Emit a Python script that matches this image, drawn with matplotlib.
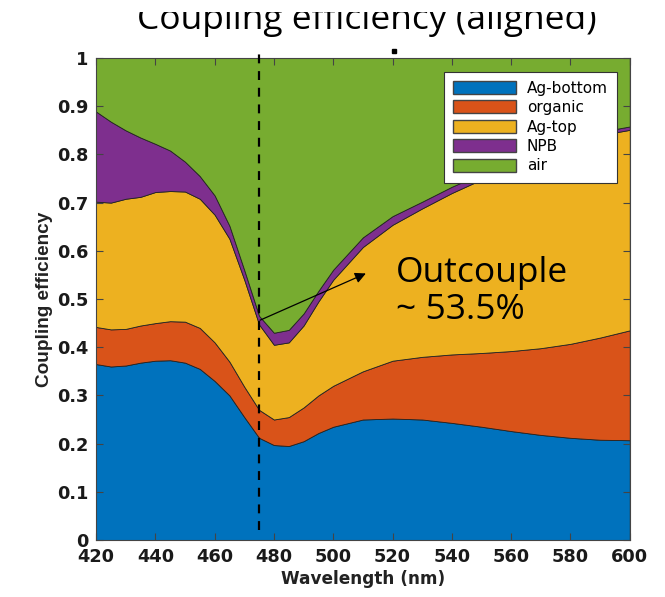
import numpy as np
import matplotlib.pyplot as plt
from matplotlib.patches import Rectangle

# wavelength samples (nm)
wavelength = [420, 425, 430, 435, 440, 445, 450, 455, 460, 465, 470, 475, 480,
              485, 490, 495, 500, 510, 520, 530, 540, 550, 560, 570, 580, 590, 600]

# fraction of power going into each layer
ag_bottom = [0.365, 0.360, 0.362, 0.368, 0.372, 0.373, 0.368, 0.355, 0.330, 0.300,
             0.255, 0.212, 0.197, 0.195, 0.205, 0.222, 0.235, 0.250, 0.252, 0.250,
             0.243, 0.235, 0.226, 0.218, 0.212, 0.208, 0.207]
organic = [0.077, 0.077, 0.076, 0.077, 0.078, 0.081, 0.085, 0.085, 0.080, 0.070,
           0.063, 0.058, 0.053, 0.060, 0.070, 0.078, 0.085, 0.100, 0.120, 0.130,
           0.142, 0.153, 0.166, 0.180, 0.195, 0.212, 0.228]
ag_top = [0.260, 0.263, 0.270, 0.267, 0.272, 0.270, 0.270, 0.268, 0.265, 0.255,
          0.222, 0.177, 0.155, 0.155, 0.170, 0.195, 0.220, 0.258, 0.282, 0.308,
          0.335, 0.360, 0.383, 0.402, 0.416, 0.420, 0.416]
npb = [0.187, 0.168, 0.142, 0.123, 0.100, 0.084, 0.062, 0.047, 0.040, 0.027,
       0.020, 0.018, 0.025, 0.026, 0.025, 0.022, 0.021, 0.020, 0.018, 0.014,
       0.013, 0.012, 0.010, 0.008, 0.008, 0.007, 0.007]
air = [0.111, 0.132, 0.150, 0.165, 0.178, 0.192, 0.215, 0.245, 0.285, 0.348,
       0.440, 0.535, 0.570, 0.564, 0.530, 0.483, 0.439, 0.372, 0.328, 0.298,
       0.267, 0.240, 0.215, 0.192, 0.169, 0.153, 0.142]

labels = ['Ag-bottom', 'organic', 'Ag-top', 'NPB', 'air']
colors = ['#0072BD', '#D95319', '#EDB120', '#7E2F8E', '#77AC30']

marker_wl = 475
outcouple_text = 'Outcouple\n~ 53.5%'
xticks = np.arange(420, 601, 20)
yticks = np.arange(0, 1.01, 0.1)
ytick_labels = ['0', '0.1', '0.2', '0.3', '0.4', '0.5', '0.6', '0.7', '0.8', '0.9', '1']

plt.rcParams['font.family'] = ['DejaVu Sans']

fig = plt.figure(figsize=(6.65, 5.97), dpi=100)
ax = fig.add_axes([0.1444, 0.0955, 0.8026, 0.8073])

ax.stackplot(wavelength, ag_bottom, organic, ag_top, npb, air,
             colors=colors, labels=labels,
             edgecolor='#222222', linewidth=0.6)

ax.set_xlim(420, 600)
ax.set_ylim(0, 1)
ax.set_xticks(xticks)
ax.set_yticks(yticks)
ax.set_yticklabels(ytick_labels)
ax.tick_params(direction='in', top=True, right=True, length=5, width=0.8,
               labelsize=12.8, color='#444444', labelcolor='#1a1a1a', pad=5.5)
for lab in ax.get_xticklabels() + ax.get_yticklabels():
    lab.set_fontweight('bold')
for sp in ax.spines.values():
    sp.set_color('#444444')
    sp.set_linewidth(0.8)

ax.set_xlabel('Wavelength (nm)', fontsize=12.2, fontweight='bold', color='#222222', labelpad=3)
ax.set_ylabel('Coupling efficiency', fontsize=13.7, fontweight='bold', color='#222222',
              family='Liberation Sans', labelpad=3)

# dashed marker at the emission peak
ax.plot([marker_wl, marker_wl], [0.02, 1.017], color='black', lw=1.6,
        dashes=(4, 3.5), clip_on=False, zorder=5)
ax.plot([520.4], [1.015], marker='s', ms=2.2, color='black', clip_on=False, zorder=5)

ax.annotate('', xy=(511, 0.553), xytext=(475.3, 0.456),
            arrowprops=dict(arrowstyle='-|>', color='black', lw=0.9,
                            mutation_scale=16, shrinkA=0, shrinkB=0), zorder=6)
ax.text(521, 0.515, outcouple_text, fontsize=25.5, family='Open Sans',
        va='center', ha='left', linespacing=1.1)

leg = ax.legend(loc='upper right', bbox_to_anchor=(0.976, 0.972), borderaxespad=0,
                fontsize=11, fancybox=False, framealpha=1, edgecolor='#333333',
                handlelength=4.1, handleheight=0.95, labelspacing=0.29,
                handletextpad=0.7, borderpad=0.6)
leg.get_frame().set_linewidth(0.8)
for h in leg.legend_handles:
    h.set_edgecolor('#444444')
    h.set_linewidth(1.0)

fig.text(0.552, 0.9514, 'Coupling efficiency (aligned)', fontsize=25.5,
         family='Open Sans', ha='center', va='baseline')
# the top of the title is cut off in the original slide
fig.add_artist(Rectangle((0, 0.98), 1, 0.02, transform=fig.transFigure,
                         facecolor='white', edgecolor='none', zorder=10))

fig.savefig('out.png', dpi=100)
